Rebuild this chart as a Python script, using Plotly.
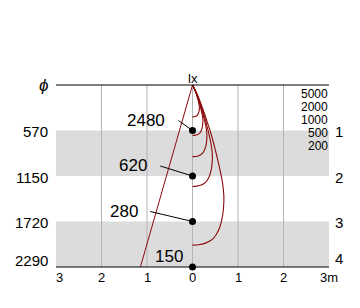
import plotly.graph_objects as go

# ---------------- data ----------------
distances_m = [0, 1, 2, 3, 4]
beam_diam_mm = [0, 570, 1150, 1720, 2290]
diam_labels = ["ϕ", "570", "1150", "1720", "2290"]
dist_labels = ["1", "2", "3", "4"]
center_lux = [2480, 620, 280, 150]
iso_levels = [5000, 2000, 1000, 500, 200]
x_ticks = [-3, -2, -1, 0, 1, 2, 3]
x_tick_text = ["3", "2", "1", "0", "1", "2", "3m"]
grid_x = [-2, -1, 0, 1, 2]

# isolux curves (x in m, d in m)
iso_5000_x = [0, 0.022, 0.042, 0.063, 0.088, 0.109, 0.130, 0.144, 0.151, 0.149, 0.140, 0.124, 0.101, 0.066, 0.031, 0]
iso_5000_d = [0, 0.040, 0.083, 0.141, 0.209, 0.282, 0.358, 0.428, 0.487, 0.541, 0.593, 0.636, 0.670, 0.690, 0.698, 0.70]
iso_2000_x = [0, 0.033, 0.063, 0.096, 0.133, 0.166, 0.195, 0.218, 0.229, 0.225, 0.212, 0.189, 0.152, 0.099, 0.046, 0]
iso_2000_d = [0, 0.063, 0.132, 0.224, 0.331, 0.447, 0.567, 0.678, 0.773, 0.858, 0.940, 1.009, 1.062, 1.094, 1.107, 1.11]
iso_1000_x = [0, 0.045, 0.087, 0.132, 0.185, 0.230, 0.272, 0.303, 0.317, 0.312, 0.295, 0.262, 0.212, 0.138, 0.065, 0]
iso_1000_d = [0, 0.090, 0.187, 0.318, 0.469, 0.635, 0.805, 0.962, 1.096, 1.217, 1.334, 1.432, 1.507, 1.553, 1.570, 1.575]
iso_500_x = [0, 0.062, 0.120, 0.183, 0.254, 0.317, 0.375, 0.418, 0.437, 0.430, 0.406, 0.361, 0.292, 0.190, 0.089, 0]
iso_500_d = [0, 0.127, 0.265, 0.450, 0.665, 0.899, 1.140, 1.363, 1.552, 1.724, 1.889, 2.027, 2.134, 2.199, 2.223, 2.23]
iso_200_x = [0, 0.10, 0.19, 0.29, 0.40, 0.50, 0.59, 0.66, 0.69, 0.68, 0.64, 0.57, 0.46, 0.30, 0.14, 0]
iso_200_d = [0, 0.20, 0.42, 0.71, 1.05, 1.42, 1.80, 2.15, 2.45, 2.72, 2.98, 3.20, 3.37, 3.47, 3.51, 3.52]

# leader line start points (m)
leader_x = [-0.31, -0.71, -0.93]
leader_d = [0.78, 1.78, 2.78]

# ---------------- layout constants ----------------
RED = "#8b0a0a"
FONT = "Liberation Sans, Arial, sans-serif"
lab_x = [-1.02, -1.31, -1.50, -0.51]
lab_d = [0.77, 1.78, 2.78, 3.76]

fig = go.Figure()

# beam edge line
fig.add_trace(go.Scatter(
    x=[-v / 2000 for v in beam_diam_mm], y=distances_m, mode="lines",
    line=dict(color=RED, width=1), hoverinfo="skip", showlegend=False))

curves = [(iso_5000_x, iso_5000_d), (iso_2000_x, iso_2000_d), (iso_1000_x, iso_1000_d),
          (iso_500_x, iso_500_d), (iso_200_x, iso_200_d)]
for cx, cd in curves:
    fig.add_trace(go.Scatter(x=cx, y=cd, mode="lines",
                             line=dict(color=RED, width=1.1, shape="spline", smoothing=0.8),
                             hoverinfo="skip", showlegend=False))

# leader lines
for lx, ld, dd in zip(leader_x, leader_d, distances_m[1:]):
    fig.add_trace(go.Scatter(x=[lx, 0], y=[ld, dd], mode="lines",
                             line=dict(color="black", width=1),
                             hoverinfo="skip", showlegend=False))

# dots
fig.add_trace(go.Scatter(x=[0] * 4, y=distances_m[1:], mode="markers",
                         marker=dict(color="black", size=7),
                         hoverinfo="skip", showlegend=False))

shapes = []
# shaded bands
for d0, d1 in [(1, 2), (3, 4)]:
    shapes.append(dict(type="rect", xref="x", yref="y", x0=-3, x1=3, y0=d0, y1=d1,
                       fillcolor="#dcdcdc", line=dict(width=0), layer="below"))
# grid lines
for g in grid_x:
    shapes.append(dict(type="line", xref="x", yref="y", x0=g, x1=g, y0=0, y1=4,
                       line=dict(color="#b4b4b4", width=1), layer="below"))
# top and bottom lines
for d in [0, 4]:
    shapes.append(dict(type="line", xref="x", yref="y", x0=-3, x1=3, y0=d, y1=d,
                       line=dict(color="black", width=1.2)))

ann = []
# left labels (diameters)
for i, (t, d) in enumerate(zip(diam_labels, distances_m)):
    ann.append(dict(x=-3.132, y=d, text=("<i>" + t + "</i>") if i == 0 else t,
                    xanchor="right", yanchor="middle",
                    yshift=7 if i == 4 else (-1 if i > 0 else 0),
                    font=dict(size=17 if i == 0 else 15, color="black", family=FONT)))
# right labels (distance)
for i, (t, d) in enumerate(zip(dist_labels, distances_m[1:])):
    ann.append(dict(x=3.09, y=d, text=t, xanchor="left", yanchor="middle",
                    yshift=9 if i == 3 else -1,
                    font=dict(size=15, color="black", family=FONT)))
# center lux labels
for v, x, d in zip(center_lux, lab_x, lab_d):
    ann.append(dict(x=x, y=d, text=str(v), xanchor="center", yanchor="middle",
                    font=dict(size=17, color="black", family=FONT)))
# isolux legend
for i, lv in enumerate(iso_levels):
    ann.append(dict(x=3.0, y=0.19 + i * 0.29, text=str(lv), xanchor="right", yanchor="middle",
                    borderpad=0,
                    font=dict(size=12, color="black", family=FONT)))
# lx
ann.append(dict(x=0, y=-0.15, text="lx", xanchor="center", yanchor="middle",
                font=dict(size=13, color="black", family=FONT)))
# x tick labels
for xv, t in zip(x_ticks, x_tick_text):
    ann.append(dict(x=xv, y=4.22, text=t, xanchor="left" if xv == -3 else "center",
                    xshift=-2 if xv == -3 else 0, yanchor="middle",
                    font=dict(size=13, color="black", family=FONT)))
for a in ann:
    a.update(xref="x", yref="y", showarrow=False)

fig.update_layout(
    width=360, height=308, margin=dict(l=0, r=0, t=0, b=0),
    paper_bgcolor="white", plot_bgcolor="white",
    xaxis=dict(range=[-4.2308, 3.6813], visible=False, fixedrange=True),
    yaxis=dict(range=[4.9011, -1.8681], visible=False, fixedrange=True),
    shapes=shapes, annotations=ann, showlegend=False,
)

fig.write_html("out.html")
